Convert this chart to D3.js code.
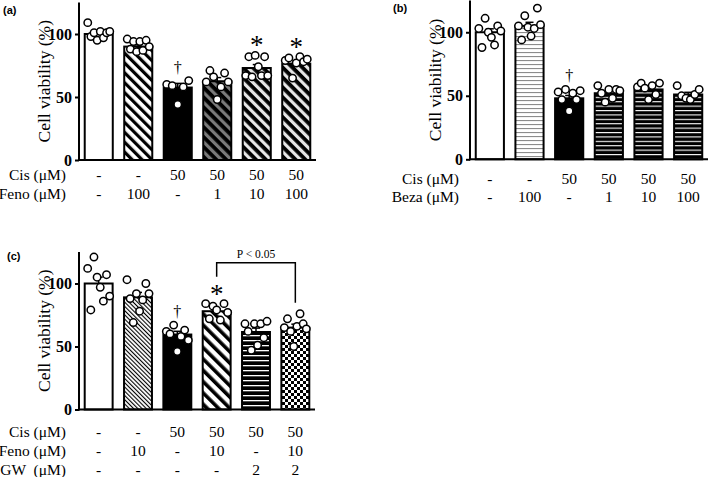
<!DOCTYPE html>
<html><head><meta charset="utf-8">
<script src="https://cdn.jsdelivr.net/npm/d3@7"></script>
<style>body{margin:0;background:#fff}svg{display:block}</style>
</head><body>
<svg id="chart" width="709" height="477"></svg>
<script>
// ---------------- DATA ----------------
// Panel (a)
const aCis  = ["-", "-", "50", "50", "50", "50"];
const aFeno = ["-", "100", "-", "1", "10", "100"];
const aMeans = [100, 90, 57.5, 62.5, 73, 76.5];
const aDots = [
  [109, 98, 101, 95, 102, 97, 101, 102],
  [96, 88, 94, 86, 94, 87, 95, 90],
  [60, 59, 44, 58, 63],
  [62, 71, 66, 48, 58, 69, 62],
  [67, 82, 66, 83, 74, 67, 82, 67],
  [79, 81, 65, 77, 82, 78, 80]
];
const aMarks = [{bar: 2, sym: "†"}, {bar: 4, sym: "*"}, {bar: 5, sym: "*"}];

// Panel (b)
const bCis  = ["-", "-", "50", "50", "50", "50"];
const bBeza = ["-", "100", "-", "1", "10", "100"];
const bMeans = [100, 105, 48, 52, 55, 51];
const bDots = [
  [103, 88, 111, 100, 96, 90, 105, 101],
  [105, 94, 113, 104, 97, 103, 119, 106],
  [53, 47, 55, 38, 52, 47, 54],
  [58, 52, 45, 55, 48, 55, 54],
  [57, 60, 56, 47, 58, 51, 60],
  [58, 50, 48, 47, 51, 55]
];
const bMarks = [{bar: 2, sym: "†"}];

// Panel (c)
const cCis  = ["-", "-", "50", "50", "50", "50"];
const cFeno = ["-", "10", "-", "10", "-", "10"];
const cGW   = ["-", "-", "-", "-", "2", "2"];
const cMeans = [100, 89, 59.5, 78, 61.5, 65];
const cDots = [
  [112, 79, 121, 105, 97, 86, 107, 90],
  [103, 88, 69, 92, 78, 87, 100, 92],
  [62, 60, 67, 46, 58, 63, 55],
  [84, 72, 82, 79, 71, 84, 77],
  [68, 62, 47, 68, 51, 68, 57, 70],
  [65, 72, 62, 50, 66, 76, 68, 64]
];
const cMarks = [{bar: 2, sym: "†"}, {bar: 3, sym: "*"}];
const cBracket = {from: 3, to: 5, text: "P < 0.05"};

const yTicks = [0, 50, 100];
const yTitle = "Cell viability (%)";

// ---------------- DRAW ----------------
const svg = d3.select("#chart");
const defs = svg.append("defs");
const SERIF = "'Liberation Serif','Times New Roman',serif";
const SANS = "'Liberation Sans',Arial,sans-serif";

function diag(id, bg, fg, period, w, angle) {
  const p = defs.append("pattern").attr("id", id).attr("patternUnits", "userSpaceOnUse")
    .attr("width", period).attr("height", period).attr("patternTransform", `rotate(${angle})`);
  p.append("rect").attr("width", period).attr("height", period).attr("fill", bg);
  p.append("rect").attr("width", w).attr("height", period).attr("fill", fg);
}
function hlines(id, bg, fg, period, w) {
  const p = defs.append("pattern").attr("id", id).attr("patternUnits", "userSpaceOnUse")
    .attr("width", 10).attr("height", period);
  p.append("rect").attr("width", 10).attr("height", period).attr("fill", bg);
  p.append("rect").attr("y", 0).attr("width", 10).attr("height", w).attr("fill", fg);
}
function checker(id, s) {
  const p = defs.append("pattern").attr("id", id).attr("patternUnits", "userSpaceOnUse")
    .attr("width", 2 * s).attr("height", 2 * s);
  p.append("rect").attr("width", 2 * s).attr("height", 2 * s).attr("fill", "#fff");
  p.append("rect").attr("width", s).attr("height", s).attr("fill", "#000");
  p.append("rect").attr("x", s).attr("y", s).attr("width", s).attr("height", s).attr("fill", "#000");
}
diag("pA2", "#fff", "#000", 7, 3.2, -45);
diag("pA4", "#000", "#7a7a7a", 7, 3.2, -45);
diag("pA5", "#000", "#e6e6e6", 7, 3.2, -45);
hlines("pB2", "#fff", "#8c8c8c", 4, 1.1);
hlines("pB4", "#000", "#fff", 4.4, 1.1);
diag("pC2", "#fff", "#000", 3, 1.1, -45);
diag("pC4", "#fff", "#000", 8, 3.6, -45);
hlines("pC5", "#000", "#fff", 5, 1.3);
checker("pC6", 3);

const fillsA = ["#fff", "url(#pA2)", "#000", "url(#pA4)", "url(#pA5)", "url(#pA5)"];
const fillsB = ["#fff", "url(#pB2)", "#000", "url(#pB4)", "url(#pB4)", "url(#pB4)"];
const fillsC = ["#fff", "url(#pC2)", "#000", "url(#pC4)", "url(#pC5)", "url(#pC6)"];

function panel(cfg) {
  const g = svg.append("g");
  const n = cfg.means.length;
  const x = d3.scaleBand().domain(d3.range(n)).range([cfg.ax, cfg.axEnd])
    .paddingInner(0.29).paddingOuter(0.145);
  const y = d3.scaleLinear().domain([0, 125]).range([cfg.y0, cfg.yTop]);
  const bw = x.bandwidth();
  const cx = i => x(i) + bw / 2;

  // bars
  g.selectAll("rect.bar").data(cfg.means).join("rect").attr("class", "bar")
    .attr("x", (d, i) => x(i)).attr("width", bw)
    .attr("y", d => y(d)).attr("height", d => y(0) - y(d))
    .attr("fill", (d, i) => cfg.fills[i]).attr("stroke", "#000").attr("stroke-width", 2);

  // SEM (upper)
  cfg.dots.forEach((arr, i) => {
    const sem = d3.deviation(arr) / Math.sqrt(arr.length);
    const m = cfg.means[i];
    g.append("line").attr("x1", cx(i)).attr("x2", cx(i)).attr("y1", y(m)).attr("y2", y(m + sem))
      .attr("stroke", "#000").attr("stroke-width", 1.5);
    g.append("line").attr("x1", cx(i) - 4).attr("x2", cx(i) + 4).attr("y1", y(m + sem)).attr("y2", y(m + sem))
      .attr("stroke", "#000").attr("stroke-width", 1.5);
  });

  // dots
  cfg.dots.forEach((arr, i) => {
    const k = arr.length;
    g.selectAll(null).data(arr).join("circle")
      .attr("cx", (d, j) => cx(i) + (k > 1 ? (j / (k - 1) - 0.5) * 22 : 0))
      .attr("cy", d => y(d)).attr("r", 3.7)
      .attr("fill", "#fff").attr("stroke", "#000").attr("stroke-width", 1.5);
  });

  // axes
  g.append("g").attr("transform", `translate(${cfg.ax},0)`)
    .call(d3.axisLeft(y).tickValues(yTicks).tickSize(4).tickPadding(3))
    .call(a => a.select(".domain").remove())
    .call(a => a.selectAll("line").attr("stroke", "#000").attr("stroke-width", 2))
    .call(a => a.selectAll("text").attr("font-family", SERIF).attr("font-weight", "bold")
      .attr("font-size", 16).attr("fill", "#000"));
  g.append("line").attr("x1", cfg.ax).attr("x2", cfg.ax).attr("y1", y(0) + 1).attr("y2", y(125))
    .attr("stroke", "#000").attr("stroke-width", 2);
  g.append("line").attr("x1", cfg.ax - 1).attr("x2", cfg.axEnd).attr("y1", y(0)).attr("y2", y(0))
    .attr("stroke", "#000").attr("stroke-width", 2);

  // y title
  g.append("text").attr("transform", `translate(${cfg.ax - 29},${(y(0) + y(125)) / 2}) rotate(-90)`)
    .attr("text-anchor", "middle").attr("font-family", SERIF).attr("font-size", 17.5)
    .text(yTitle);

  // panel label
  g.append("text").attr("x", cfg.labX).attr("y", cfg.labY).attr("font-family", SANS)
    .attr("font-weight", "bold").attr("font-size", 11).text(cfg.label);

  // significance marks
  cfg.marks.forEach(mk => {
    const top = y(d3.max(cfg.dots[mk.bar]));
    if (mk.sym === "*") {
      g.append("text").attr("x", cx(mk.bar)).attr("y", top - 1).attr("text-anchor", "middle")
        .attr("font-family", SERIF).attr("font-size", 27).text("*");
    } else {
      g.append("text").attr("x", cx(mk.bar)).attr("y", top - 8).attr("text-anchor", "middle")
        .attr("font-family", SERIF).attr("font-size", 16).text(mk.sym);
    }
  });

  // bracket
  if (cfg.bracket) {
    const b = cfg.bracket;
    const yT = cfg.bracketY;
    const yL = y(d3.max(cfg.dots[b.from])) - 27;
    const yR = y(d3.max(cfg.dots[b.to])) - 11;
    g.append("path").attr("d", `M${cx(b.from)},${yL}V${yT}H${cx(b.to)}V${yR}`)
      .attr("fill", "none").attr("stroke", "#000").attr("stroke-width", 1.5);
    g.append("text").attr("x", (cx(b.from) + cx(b.to)) / 2).attr("y", yT - 5)
      .attr("text-anchor", "middle").attr("font-family", SERIF).attr("font-size", 11.5).text(b.text);
  }

  // table
  cfg.rows.forEach((row, r) => {
    const yy = cfg.rowY[r];
    g.append("text").attr("x", cfg.rowLabX).attr("y", yy).attr("text-anchor", "end")
      .attr("font-family", SERIF).attr("font-size", 15.5).attr("xml:space", "preserve").text(row.label);
    g.selectAll(null).data(row.vals).join("text")
      .attr("x", (d, i) => cx(i)).attr("y", yy).attr("text-anchor", "middle")
      .attr("font-family", SERIF).attr("font-size", 15.5).text(d => d);
  });
}

panel({ax: 79, axEnd: 316, y0: 160, yTop: 2.5, means: aMeans, dots: aDots, fills: fillsA,
  marks: aMarks, label: "(a)", labX: 3, labY: 14, rowLabX: 66,
  rows: [{label: "Cis (μM)", vals: aCis}, {label: "Feno (μM)", vals: aFeno}], rowY: [179.5, 198.5]});
panel({ax: 470, axEnd: 708, y0: 159.3, yTop: 0.5, means: bMeans, dots: bDots, fills: fillsB,
  marks: bMarks, label: "(b)", labX: 393, labY: 12, rowLabX: 459,
  rows: [{label: "Cis (μM)", vals: bCis}, {label: "Beza (μM)", vals: bBeza}], rowY: [183.5, 202]});
panel({ax: 79, axEnd: 315, y0: 409.5, yTop: 252, means: cMeans, dots: cDots, fills: fillsC,
  marks: cMarks, label: "(c)", labX: 7, labY: 260, rowLabX: 66, bracket: cBracket, bracketY: 262.7,
  rows: [{label: "Cis (μM)", vals: cCis}, {label: "Feno (μM)", vals: cFeno}, {label: "GW  (μM)", vals: cGW}],
  rowY: [436.5, 455.5, 475]});
</script>
</body></html>
